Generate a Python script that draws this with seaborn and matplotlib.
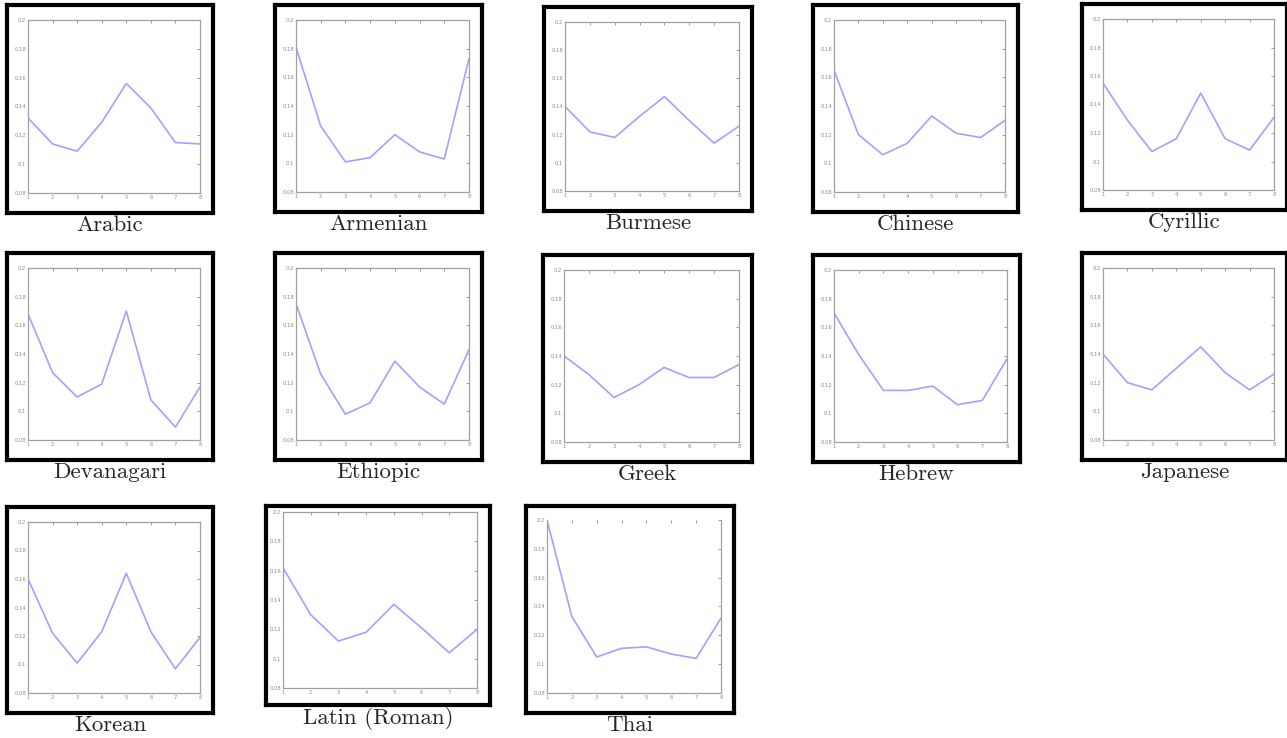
import numpy as np
import pandas as pd
import matplotlib
matplotlib.use('Agg')
import matplotlib.pyplot as plt
import seaborn as sns

# 데이터
scripts = ['Arabic', 'Armenian', 'Burmese', 'Chinese', 'Cyrillic',
           'Devanagari', 'Ethiopic', 'Greek', 'Hebrew', 'Japanese',
           'Korean', 'Latin (Roman)', 'Thai']
positions = [1, 2, 3, 4, 5, 6, 7, 8]

arabic     = [0.132, 0.114, 0.109, 0.129, 0.156, 0.139, 0.115, 0.114]
armenian   = [0.181, 0.126, 0.101, 0.104, 0.120, 0.108, 0.103, 0.173]
burmese    = [0.140, 0.122, 0.118, 0.133, 0.147, 0.130, 0.114, 0.126]
chinese    = [0.165, 0.120, 0.106, 0.114, 0.133, 0.121, 0.118, 0.130]
cyrillic   = [0.155, 0.129, 0.107, 0.116, 0.148, 0.116, 0.108, 0.131]
devanagari = [0.168, 0.127, 0.110, 0.119, 0.170, 0.108, 0.089, 0.117]
ethiopic   = [0.175, 0.126, 0.098, 0.106, 0.135, 0.117, 0.105, 0.143]
greek      = [0.140, 0.127, 0.111, 0.120, 0.132, 0.125, 0.125, 0.134]
hebrew     = [0.170, 0.141, 0.116, 0.116, 0.119, 0.106, 0.109, 0.138]
japanese   = [0.140, 0.120, 0.115, 0.130, 0.145, 0.127, 0.115, 0.126]
korean     = [0.160, 0.122, 0.101, 0.123, 0.164, 0.123, 0.097, 0.119]
latin      = [0.162, 0.130, 0.112, 0.118, 0.137, 0.121, 0.104, 0.120]
thai       = [0.200, 0.133, 0.105, 0.111, 0.112, 0.107, 0.104, 0.132]

yticks = [0.08, 0.1, 0.12, 0.14, 0.16, 0.18, 0.2]
ytick_labels = ['0.08', '0.1', '0.12', '0.14', '0.16', '0.18', '0.2']

series = [arabic, armenian, burmese, chinese, cyrillic, devanagari, ethiopic,
          greek, hebrew, japanese, korean, latin, thai]

rows = []
for name, vals in zip(scripts, series):
    for p, v in zip(positions, vals):
        rows.append({'script': name, 'pos': p, 'freq': v})
df = pd.DataFrame(rows)

# 패널 테두리 위치 (픽셀, 왼쪽 위 기준)
boxes = [(7, 5, 213, 213), (275, 5, 482, 212), (544, 7, 752, 211), (813, 5, 1018, 212), (1082, 4, 1287, 210),
         (7, 253, 213, 460), (275, 253, 482, 460), (543, 255, 752, 462), (813, 255, 1020, 462), (1082, 253, 1287, 460),
         (7, 507, 213, 713), (266, 506, 490, 705), (526, 506, 734, 713)]
# 안쪽 축 여백 (left, right, top, bottom)
margins = [(21, 13, 15, 20)] * 11 + [(17, 13, 6, 17), (21, 13, 14, 20)]

W, H = 1287, 738
sns.set_style('white')
plt.rcParams['font.family'] = ['cmr10', 'DejaVu Serif']
plt.rcParams['axes.formatter.use_mathtext'] = True

fig = plt.figure(figsize=(W / 100, H / 100), dpi=100)

def fr(x0, y0, x1, y1):
    return [x0 / W, 1 - y1 / H, (x1 - x0) / W, (y1 - y0) / H]

line_col = '#a0a2ff'
grey = '#8c8c8c'

for i, name in enumerate(scripts):
    x0, y0, x1, y1 = boxes[i]
    frame = fig.add_axes(fr(x0, y0, x1, y1))
    frame.set_xticks([])
    frame.set_yticks([])
    for s in frame.spines.values():
        s.set_linewidth(3.0)
        s.set_color('black')
    frame.patch.set_facecolor('white')

    ml, mr, mt, mb = margins[i]
    ax = fig.add_axes(fr(x0 + ml, y0 + mt, x1 - mr, y1 - mb))
    sub = df[df.script == name]
    sns.lineplot(data=sub, x='pos', y='freq', ax=ax, color=line_col, linewidth=1.2)
    ax.set_xlim(1, 8)
    ax.set_ylim(0.08, 0.2)
    ax.set_xticks(positions)
    ax.set_xticklabels([str(p) for p in positions])
    ax.set_yticks(yticks)
    ax.set_yticklabels(ytick_labels)
    ax.set_xlabel('')
    ax.set_ylabel('')
    ax.tick_params(direction='in', length=2, width=0.6, colors=grey, labelsize=3.8,
                   top=True, right=True, pad=1.5)
    for lab in ax.get_xticklabels() + ax.get_yticklabels():
        lab.set_family('DejaVu Sans')
    for s in ax.spines.values():
        s.set_color('#a0a0a0')
        s.set_linewidth(0.9)
    if name == 'Thai':
        ax.spines['top'].set_visible(False)

    fig.text(((x0 + x1) / 2) / W, 1 - (y1 + 2) / H, name, ha='center', va='top',
             fontsize=16.5)

fig.savefig('out.png', dpi=100)
